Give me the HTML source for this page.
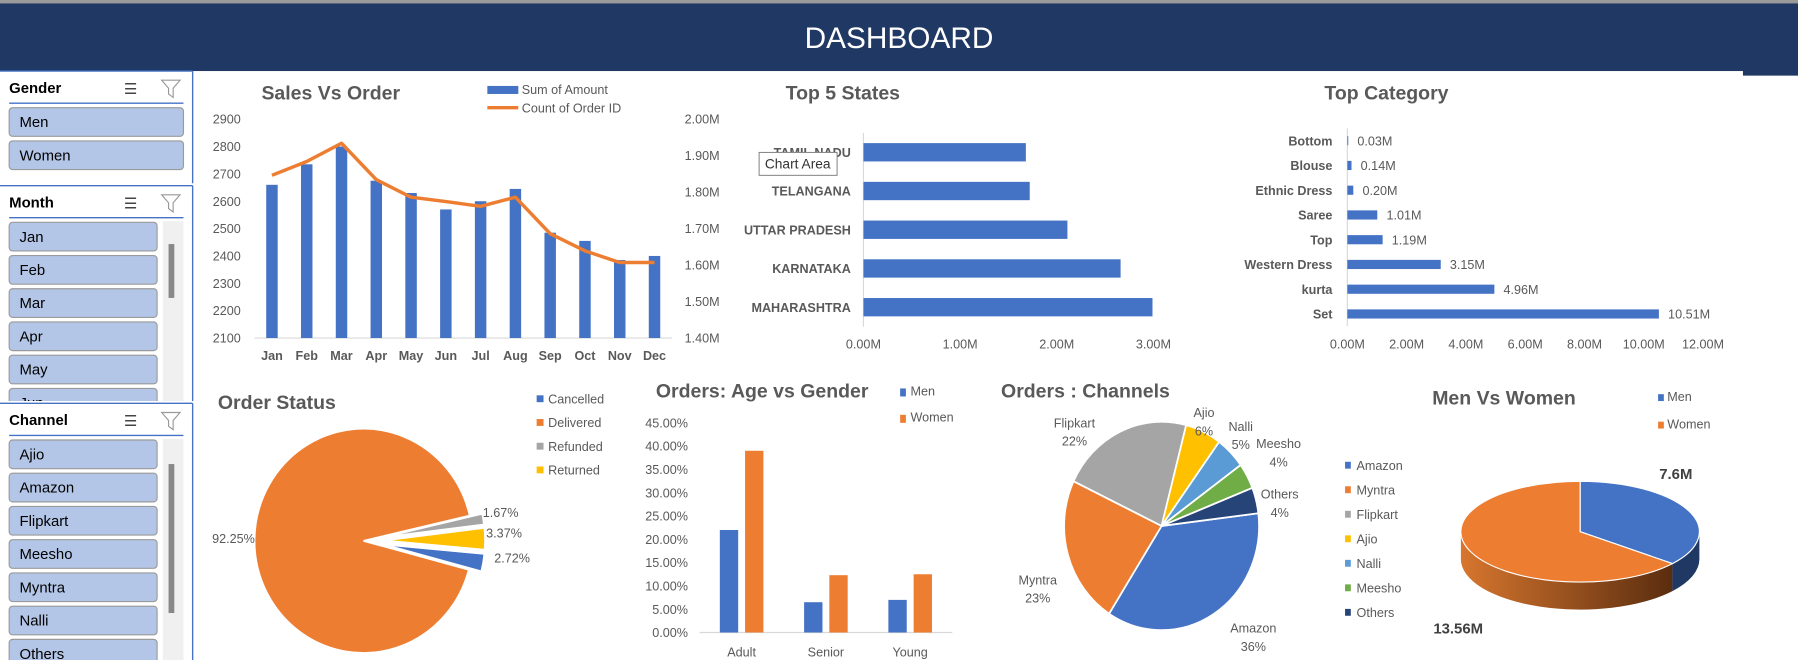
<!DOCTYPE html>
<html><head><meta charset="utf-8">
<style>
html,body{margin:0;padding:0;background:#fff;overflow:hidden;width:1798px;height:660px}
svg{display:block;font-family:"Liberation Sans",sans-serif}
.ax{font-size:11px;fill:#595959}
.ttl{font-size:17px;font-weight:bold;fill:#595959}
.sl{font-size:13px;fill:#000}
</style></head>
<body>
<svg id="dash" width="1798" height="660" viewBox="0 0 1568 576" preserveAspectRatio="none" xmlns="http://www.w3.org/2000/svg">
<rect x="0" y="0" width="1568" height="576" fill="#fff"/>
<g>
<rect x="0" y="0" width="1568" height="62" fill="#203864"/>
<rect x="1520" y="0" width="48" height="66" fill="#203864"/>
<rect x="0" y="0" width="1568" height="3" fill="#9a9a9a"/>
<text x="784" y="42" text-anchor="middle" font-size="26" fill="#fff">DASHBOARD</text>
</g>
<g id="side"></g>
<g id="charts"></g>
<g>
<rect x="662" y="133" width="68" height="20" fill="#fff" stroke="#777" stroke-width="0.8"/>
<text x="667" y="147" font-size="12" fill="#333">Chart Area</text>
</g>
</svg>
<script>
// ===== data =====
const months=["Jan","Feb","Mar","Apr","May","Jun","Jul","Aug","Sep","Oct","Nov","Dec"];
const salesBars=[2660,2735,2800,2675,2630,2570,2600,2645,2485,2455,2385,2400];
const orderLine=[1.846,1.884,1.934,1.834,1.786,1.774,1.761,1.786,1.686,1.639,1.607,1.607];
const leftTicks=[2100,2200,2300,2400,2500,2600,2700,2800,2900];
const rightTicks=[1.4,1.5,1.6,1.7,1.8,1.9,2.0];
const states=["TAMIL NADU","TELANGANA","UTTAR PRADESH","KARNATAKA","MAHARASHTRA"];
const stateVals=[1.68,1.72,2.11,2.66,2.99];
const stateTicks=[0,1,2,3];
const cats=["Bottom","Blouse","Ethnic Dress","Saree","Top","Western Dress","kurta","Set"];
const catVals=[0.03,0.14,0.20,1.01,1.19,3.15,4.96,10.51];
const catTicks=[0,2,4,6,8,10,12];
const statusNames=["Refunded","Returned","Cancelled","Delivered"];
const statusVals=[1.67,3.37,2.72,92.25];
const ageCats=["Adult","Senior","Young"];
const ageMen=[22,6.5,7];
const ageWomen=[39,12.3,12.5];
const ageTicks=[0,5,10,15,20,25,30,35,40,45];
const channels=["Amazon","Myntra","Flipkart","Ajio","Nalli","Meesho","Others"];
const channelVals=[36,23,22,6,5,4,4];
const genderNames=["Men","Women"];
const genderVals=[7.6,13.56];

const NS="http://www.w3.org/2000/svg";
function mk(parent,tag,attrs,txt){const e=document.createElementNS(NS,tag);for(const k in attrs)e.setAttribute(k,attrs[k]);if(txt!==undefined)e.textContent=txt;parent.appendChild(e);return e;}
const side=document.getElementById('side');
const charts=document.getElementById('charts');

// ===== slicers =====
function slicer(title,y0,h,items,btnW,scroll){
  const g=mk(side,'g',{});
  
  
  mk(g,'line',{x1:0,y1:y0,x2:168,y2:y0,stroke:'#4472c4','stroke-width':1.2});
  mk(g,'line',{x1:168,y1:y0,x2:168,y2:y0+h,stroke:'#4472c4','stroke-width':1.2});
  const t=mk(g,'text',{x:8,y:y0+19,'font-size':13,'font-weight':'bold'},title);
  
  
  const ms=mk(g,'text',{x:108,y:y0+20,'font-size':13,fill:'#444'},'☰');
  
  
  const fl=mk(g,'path',{d:`M141 ${y0+8} h16 l-6 7 v8 l-4 -3 v-5 z`,fill:'none',stroke:'#999','stroke-width':1});
  
  
  mk(g,'line',{x1:8,y1:y0+28,x2:160,y2:y0+28,stroke:'#4472c4','stroke-width':1.2});
  const clip='c'+title;
  const cp=mk(g,'clipPath',{id:clip});mk(cp,'rect',{x:0,y:y0+29,width:168,height:h-29});
  const ig=mk(g,'g',{'clip-path':`url(#${clip})`});
  if(scroll){
    const sb=mk(ig,'rect',{x:142,y:y0+31,width:18,height:h,fill:'#f0f0f0'});
    
    
    mk(ig,'rect',{x:147,y:y0+scroll[0],width:5,height:scroll[1],fill:'#888'});
  }
  items.forEach((it,i)=>{
    const by=y0+32+i*29;
    const b=mk(ig,'g',{});
    
    
    mk(b,'rect',{x:8,y:by,width:btnW,height:25,rx:3,fill:'#b4c6e7',stroke:'#9a9a9a','stroke-width':1});
    mk(b,'text',{x:17,y:by+17,class:'sl'},it);
  });
}
slicer('Gender',62,98,['Men','Women'],152,null);
slicer('Month',162,188,['Jan','Feb','Mar','Apr','May','Jun'],129,[51,47]);
slicer('Channel',352,224,['Ajio','Amazon','Flipkart','Meesho','Myntra','Nalli','Others'],129,[53,130]);

function chartGroup(name){const g=mk(charts,'g',{});return g;}
function title(g,x,y,s,anchor){const t=mk(g,'text',{x:x,y:y,class:'ttl','text-anchor':anchor||'start'},s);}

// ===== Sales vs Order =====
(function(){
  const g=chartGroup('sales-vs-order-chart');
  title(g,228,87,'Sales Vs Order');
  const x0=222,bw=30.33,yb=295;
  const yL=v=>yb-(v-2100)/800*191;
  const yR=v=>yb-(v-1.4)/0.6*191;
  const xc=i=>x0+bw*(i+0.5);
  leftTicks.forEach(v=>{const t=mk(g,'text',{x:210,y:yL(v)+4,class:'ax','text-anchor':'end'},v);});
  rightTicks.forEach(v=>{const t=mk(g,'text',{x:597,y:yR(v)+4,class:'ax'},v.toFixed(2)+'M');});
  mk(g,'line',{x1:222,y1:yb,x2:586,y2:yb,stroke:'#d9d9d9'});
  salesBars.forEach((v,i)=>{const r=mk(g,'rect',{x:xc(i)-5,y:yL(v),width:10,height:yb-yL(v),fill:'#4472c4'});});
  months.forEach((m,i)=>{const t=mk(g,'text',{x:xc(i),y:314,class:'ax','text-anchor':'middle','font-weight':'bold'},m);});
  const pl=mk(g,'polyline',{points:orderLine.map((v,i)=>xc(i)+','+yR(v)).join(' '),fill:'none',stroke:'#ed7d31','stroke-width':3,'stroke-linejoin':'round'});
  
  const l1=mk(g,'g',{});
  mk(l1,'rect',{x:425,y:75,width:27,height:7,fill:'#4472c4'});mk(l1,'text',{x:455,y:82,class:'ax'},'Sum of Amount');
  const l2=mk(g,'g',{});
  mk(l2,'line',{x1:425,y1:94,x2:452,y2:94,stroke:'#ed7d31','stroke-width':3});mk(l2,'text',{x:455,y:98,class:'ax'},'Count of Order ID');
})();

// ===== Top 5 States =====
(function(){
  const g=chartGroup('top-5-states-chart');
  title(g,735,87,'Top 5 States','middle');
  const ax=753,k=84.3,row=33.8,y0=116;
  mk(g,'line',{x1:ax,y1:y0,x2:ax,y2:y0+5*row,stroke:'#d9d9d9'});
  states.forEach((s,i)=>{
    const yc=y0+row*(i+0.5);
    const t=mk(g,'text',{x:742,y:yc+4,class:'ax','text-anchor':'end','font-weight':'bold','font-size':10,fill:'#44546a'},s);
    const r=mk(g,'rect',{x:ax,y:yc-8,width:stateVals[i]*k,height:16,fill:'#4472c4'});
  });
  stateTicks.forEach(v=>{const t=mk(g,'text',{x:ax+v*k,y:304,class:'ax','text-anchor':'middle','fill':'#44546a'},v.toFixed(2)+'M');});
})();

// ===== Top Category =====
(function(){
  const g=chartGroup('top-category-chart');
  title(g,1155,87,'Top Category');
  const ax=1175,k=25.85,row=21.6,y0=112;
  mk(g,'line',{x1:ax,y1:y0,x2:ax,y2:y0+8*row,stroke:'#d9d9d9'});
  cats.forEach((c,i)=>{
    const yc=y0+row*(i+0.5);
    const t=mk(g,'text',{x:1162,y:yc+4,class:'ax','text-anchor':'end','font-weight':'bold'},c);
    const w=catVals[i]*k;
    const r=mk(g,'rect',{x:ax,y:yc-4,width:w,height:8,fill:'#4472c4'});
    const d=mk(g,'text',{x:ax+w+8,y:yc+4,class:'ax',fill:'#404040'},catVals[i].toFixed(2)+'M');
  });
  catTicks.forEach(v=>{const t=mk(g,'text',{x:ax+v*k,y:304,class:'ax','text-anchor':'middle'},v.toFixed(2)+'M');});
})();

function wedge(cx,cy,r,a1,a2){ // angles deg clockwise from top
  const p=a=>[cx+r*Math.sin(a*Math.PI/180),cy-r*Math.cos(a*Math.PI/180)];
  const [x1,y1]=p(a1),[x2,y2]=p(a2);
  return `M${cx},${cy} L${x1},${y1} A${r},${r} 0 ${a2-a1>180?1:0} 1 ${x2},${y2} Z`;
}

// ===== Order Status =====
(function(){
  const g=chartGroup('order-status-chart');
  title(g,190,357,'Order Status');
  const cols={Cancelled:'#4472c4',Delivered:'#ed7d31',Refunded:'#a5a5a5',Returned:'#ffc000'};
  ["Cancelled","Delivered","Refunded","Returned"].forEach((n,i)=>{
    const e=mk(g,'g',{});
    mk(e,'rect',{x:468,y:345+i*20.7,width:6,height:6,fill:cols[n]});mk(e,'text',{x:478,y:352+i*20.7,class:'ax',fill:'#404040'},n);
  });
  const pg=mk(g,'g',{transform:'translate(317,472) scale(1,1.03)'});
  const tot=statusVals.reduce((a,b)=>a+b,0);
  let a=77;
  statusVals.forEach((v,i)=>{
    const sw=v/tot*360,mid=(a+sw/2)*Math.PI/180;
    const off=statusNames[i]==='Delivered'?0:18;
    const r=statusNames[i]==='Delivered'?95:88;
    const p=mk(pg,'path',{d:wedge(off*Math.sin(mid),-off*Math.cos(mid),r,a,a+sw),fill:cols[statusNames[i]],stroke:'#fff','stroke-width':1.5});
    
    a+=sw;
  });
  [['92.25%',185,474],['1.67%',421,451],['3.37%',424,469],['2.72%',431,491]].forEach(l=>{const t=mk(g,'text',{x:l[1],y:l[2],class:'ax',fill:'#404040'},l[0]);});
})();

// ===== Age vs Gender =====
(function(){
  const g=chartGroup('age-vs-gender-chart');
  title(g,572,347,'Orders: Age vs Gender');
  const y=v=>552-v/45*183,bw=73.5,x0=610;
  ageTicks.forEach(v=>{const t=mk(g,'text',{x:600,y:y(v)+4,class:'ax','text-anchor':'end'},v.toFixed(2)+'%');});
  mk(g,'line',{x1:x0,y1:552,x2:x0+3*bw,y2:552,stroke:'#d9d9d9'});
  ageCats.forEach((c,i)=>{
    const xc=x0+bw*(i+0.5);
    const r1=mk(g,'rect',{x:xc-19,y:y(ageMen[i]),width:16,height:552-y(ageMen[i]),fill:'#4472c4'});
    const r2=mk(g,'rect',{x:xc+3,y:y(ageWomen[i]),width:16,height:552-y(ageWomen[i]),fill:'#ed7d31'});
    const t=mk(g,'text',{x:xc,y:573,class:'ax','text-anchor':'middle'},c);
  });
  [['Men','#4472c4',345],['Women','#ed7d31',368]].forEach(l=>{const e=mk(g,'g',{});mk(e,'rect',{x:785,y:l[2]-6,width:5,height:7,fill:l[1]});mk(e,'text',{x:794,y:l[2],class:'ax'},l[0]);});
})();

// ===== Channels pie =====
(function(){
  const g=chartGroup('orders-channels-chart');
  title(g,873,347,'Orders : Channels');
  const cols=['#4472c4','#ed7d31','#a5a5a5','#ffc000','#5b9bd5','#70ad47','#264478'];
  const pg=mk(g,'g',{transform:'translate(1013,459) scale(1,1.07)'});
  const tot=channelVals.reduce((a,b)=>a+b,0);
  let a=83;
  channelVals.forEach((v,i)=>{const sw=v/tot*360;const p=mk(pg,'path',{d:wedge(0,0,85,a,a+sw),fill:cols[i],stroke:'#fff','stroke-width':1.5});a+=sw;});
  [['Flipkart',937,373],['Ajio',1050,364],['Nalli',1082,376],['Meesho',1115,391],['Others',1116,435],['Myntra',905,510],['Amazon',1093,552]].forEach(l=>{
    const i=channels.indexOf(l[0]);
    const t=mk(g,'text',{x:l[1],y:l[2],class:'ax',fill:'#404040','text-anchor':'middle'});
    mk(t,'tspan',{x:l[1]},l[0]);mk(t,'tspan',{x:l[1],dy:16},channelVals[i]+'%');
  });
  channels.forEach((c,i)=>{const e=mk(g,'g',{});mk(e,'rect',{x:1173,y:403+i*21.4,width:5,height:6,fill:cols[i]});mk(e,'text',{x:1183,y:410+i*21.4,class:'ax'},c);});
})();

// ===== Men vs Women 3D pie =====
(function(){
  const g=chartGroup('men-vs-women-chart');
  title(g,1249,353,'Men Vs Women');
  const cx=1378,cy=464,rx=104,ry=44,d=24;
  const tot=genderVals[0]+genderVals[1];
  const aEnd=genderVals[0]/tot*360;
  const P=(a,dy)=>[cx+rx*Math.sin(a*Math.PI/180),cy-ry*Math.cos(a*Math.PI/180)+(dy||0)];
  const defs=mk(g,'defs',{});
  const lg=mk(defs,'linearGradient',{id:'og',x1:0,x2:1,y1:0,y2:0});
  mk(lg,'stop',{offset:0,'stop-color':'#d7762e'});mk(lg,'stop',{offset:1,'stop-color':'#5a2d0f'});
  const [sx,sy]=P(aEnd),[lx,ly]=P(270);
  mk(g,'path',{d:`M${sx},${sy} A${rx},${ry} 0 0 1 ${lx},${ly} L${lx},${ly+d} A${rx},${ry} 0 0 0 ${sx},${sy+d} Z`,fill:'url(#og)'});
  const [rxp,ryp]=P(90);
  mk(g,'path',{d:`M${rxp},${ryp} A${rx},${ry} 0 0 1 ${sx},${sy} L${sx},${sy+d} A${rx},${ry} 0 0 0 ${rxp},${ryp+d} Z`,fill:'#1f3864'});
  const pm=(a1,a2)=>{const [x1,y1]=P(a1),[x2,y2]=P(a2);return `M${cx},${cy} L${x1},${y1} A${rx},${ry} 0 ${a2-a1>180?1:0} 1 ${x2},${y2} Z`;};
  const m=mk(g,'path',{d:pm(0,aEnd),fill:'#4472c4',stroke:'#fff','stroke-width':1});
  const w=mk(g,'path',{d:pm(aEnd,360),fill:'#ed7d31',stroke:'#fff','stroke-width':1});
  const t1=mk(g,'text',{x:1447,y:418,'font-size':13,'font-weight':'bold',fill:'#404040'},genderVals[0]+'M');
  const t2=mk(g,'text',{x:1250,y:553,'font-size':13,'font-weight':'bold',fill:'#404040'},genderVals[1].toFixed(2)+'M');
  [['Men','#4472c4',350],['Women','#ed7d31',374]].forEach(l=>{const e=mk(g,'g',{});mk(e,'rect',{x:1446,y:l[2]-6,width:5,height:6,fill:l[1]});mk(e,'text',{x:1454,y:l[2],class:'ax'},l[0]);});
})();
</script>
</body></html>
